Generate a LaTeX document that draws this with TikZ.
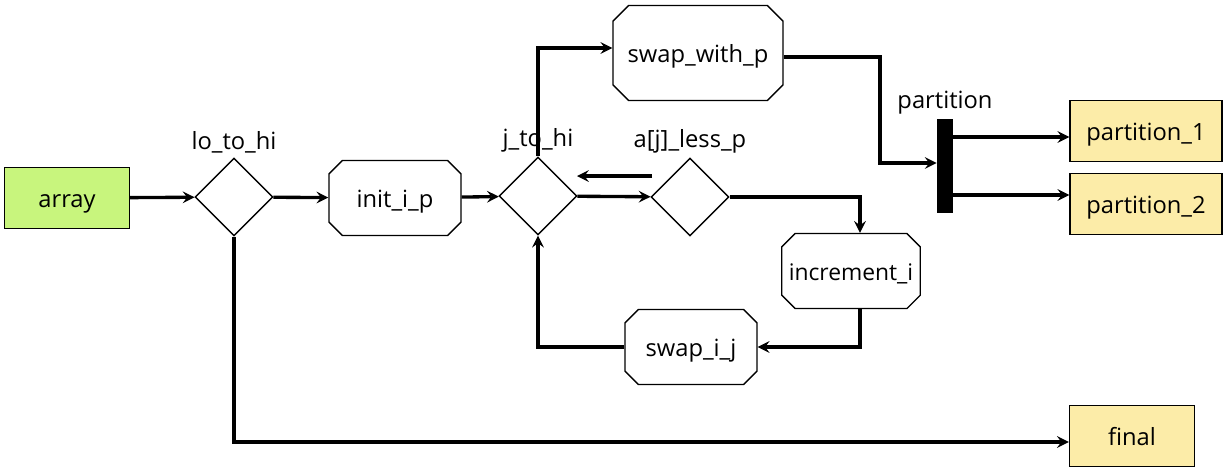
\documentclass[tikz,border=0pt]{standalone}
\usepackage{fontspec}
\setmainfont{Open Sans}
\usepackage{tikz}
\usetikzlibrary{calc,shapes.geometric,shapes.misc}
\tikzset{>=stealth}
\definecolor{startgreen}{RGB}{200,245,125}
\definecolor{endyellow}{RGB}{252,236,168}
\tikzset{
    flow/.style={->, line width=1.9pt},
    terminal/.style={draw, line width=0.8pt, minimum width=2.5cm, minimum height=1.22cm, inner sep=0pt, text height=2ex, text depth=0ex},
    decision/.style={draw, diamond, aspect=1, line width=0.8pt, minimum width=1.56cm, minimum height=1.56cm, inner sep=0pt},
    action/.style={draw, chamfered rectangle, chamfered rectangle xsep=0.14cm, line width=0.8pt, minimum width=2.64cm, minimum height=1.5cm, inner sep=0pt, text height=2ex, text depth=0ex}
}

\begin{document}
\begin{tikzpicture}[x=0.02cm, y=-0.02cm, font=\fontsize{13.5}{16}\selectfont]
    \useasboundingbox (0,0) rectangle (1225,468);

    % start and end boxes
    \node[terminal, fill=startgreen] (array) at (67,198) {array};
    \node[terminal, fill=endyellow, minimum width=3.04cm] (part1) at (1146,131) {partition\_1};
    \node[terminal, fill=endyellow, minimum width=3.04cm] (part2) at (1146,204) {partition\_2};
    \node[terminal, fill=endyellow] (final) at (1132,436) {final};

    % decisions
    \node[decision, label={[yshift=-1pt]above:lo\_to\_hi}] (lohi) at (234,197) {};
    \node[decision, label={[yshift=-1pt]above:j\_to\_hi}] (jhi) at (538,196) {};
    \node[decision, label={[yshift=-1pt]above:a[j]\_less\_p}] (aless) at (690,197) {};

    % actions
    \node[action] (initip) at (395,198) {init\_i\_p};
    \node[action, minimum width=3.4cm, minimum height=1.9cm, chamfered rectangle xsep=0.24cm] (swapp) at (698,53) {swap\_with\_p};
    \node[action, font=\fontsize{13}{16}\selectfont] (incri) at (851,271) {increment\_i};
    \node[action] (swapij) at (691,347) {swap\_i\_j};

    % fork bar
    \node[fill=black, minimum width=0.32cm, minimum height=1.88cm, inner sep=0pt,
          label={[yshift=-1pt]above:partition}] (bar) at (945,166) {};

    \coordinate (stubA) at (652,176);
    \coordinate (stubB) at (577,176);
    \coordinate (turn) at (880,163);

    \draw[flow] (array) -- (lohi);
    \draw[flow] (lohi) -- (initip);
    \draw[flow] (lohi.south) |- ([yshift=-0.12cm]final.west);
    \draw[flow] (initip) -- (jhi);
    \draw[flow] (jhi.north) |- ([yshift=0.1cm]swapp.west);
    \draw[flow] (jhi) -- (aless);
    \draw[flow] (stubA) -- (stubB);
    \draw[flow] (aless.east) -| ([xshift=0.18cm]incri.north);
    \draw[flow] ([xshift=0.18cm]incri.south) |- (swapij.east);
    \draw[flow] (swapij.west) -| (jhi.south);
    \draw[flow] ([yshift=-0.08cm]swapp.east) -| (turn) -- (bar.west |- turn);
    \draw[flow] (bar.east |- 0,137) -- (part1.west |- 0,137);
    \draw[flow] (bar.east |- 0,195) -- (part2.west |- 0,195);
\end{tikzpicture}
\end{document}
